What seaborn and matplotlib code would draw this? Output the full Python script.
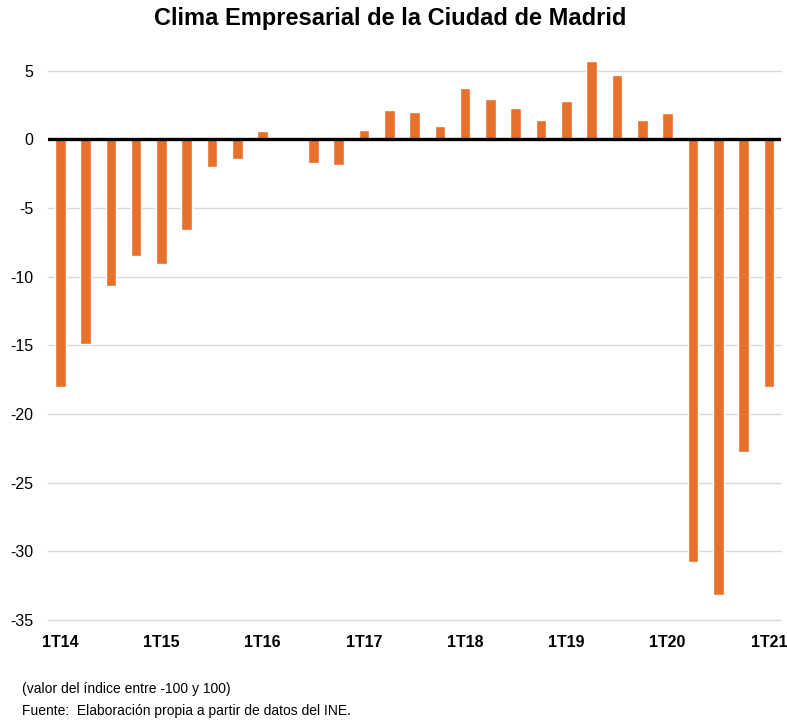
import pandas as pd
import matplotlib
matplotlib.use("Agg")
import matplotlib.pyplot as plt
import seaborn as sns

years = ['14', '15', '16', '17', '18', '19', '20', '21']
trimestres = [f"{q}T{y}" for y in years for q in range(1, 5)][:29]
valores = [-18.0, -14.9, -10.7, -8.5,
           -9.1, -6.6, -2.0, -1.4,
           0.6, 0.0, -1.7, -1.9,
           0.7, 2.1, 2.0, 1.0,
           3.7, 2.9, 2.3, 1.4,
           2.8, 5.7, 4.7, 1.4,
           1.9, -30.8, -33.2, -22.8,
           -18.0]
etiquetas_x = ['1T14', '1T15', '1T16', '1T17', '1T18', '1T19', '1T20', '1T21']
ticks_y = [5, 0, -5, -10, -15, -20, -25, -30, -35]

df = pd.DataFrame({'trimestre': trimestres, 'valor': valores})

sns.set_style("white")
plt.rcParams['font.family'] = ['Liberation Sans', 'DejaVu Sans']
plt.rcParams['text.color'] = 'black'
plt.rcParams['xtick.color'] = 'black'
plt.rcParams['ytick.color'] = 'black'

fig = plt.figure(figsize=(7.87, 7.22), dpi=100)
ax = fig.add_axes([0.0605, 0.1413, 0.9325, 0.7894])

for t in ticks_y:
    ax.axhline(t, color='#d9d9d9', lw=1.0, zorder=0, clip_on=False)

sns.barplot(data=df, x='trimestre', y='valor', color='#E7702A',
            width=0.42, saturation=1, ax=ax, zorder=2)
ax.axhline(0, color='black', lw=2.4, zorder=3)

ax.set_ylim(-35, 6.5)
ax.set_xlim(-0.5, 28.5)
ax.set_yticks(ticks_y)
ax.set_yticklabels([str(t) for t in ticks_y], fontsize=11.5)
ax.set_xticks(range(0, 29, 4))
ax.set_xticklabels(etiquetas_x, fontsize=11.5, fontweight='bold')
ax.tick_params(axis='both', length=0)
ax.tick_params(axis='y', pad=10.5)
ax.tick_params(axis='x', pad=11)
ax.set_xlabel('')
ax.set_ylabel('')
sns.despine(ax=ax, left=True, bottom=True)

fig.text(0.496, 1 - 19 / 722, 'Clima Empresarial de la Ciudad de Madrid',
         ha='center', va='center', fontsize=17, fontweight='bold')
fig.text(22 / 787, 1 - 689 / 722, '(valor del índice entre -100 y 100)',
         ha='left', va='center', fontsize=10)
fig.text(22 / 787, 1 - 711 / 722, 'Fuente:  Elaboración propia a partir de datos del INE.',
         ha='left', va='center', fontsize=10)

fig.savefig('out.png', dpi=100)
